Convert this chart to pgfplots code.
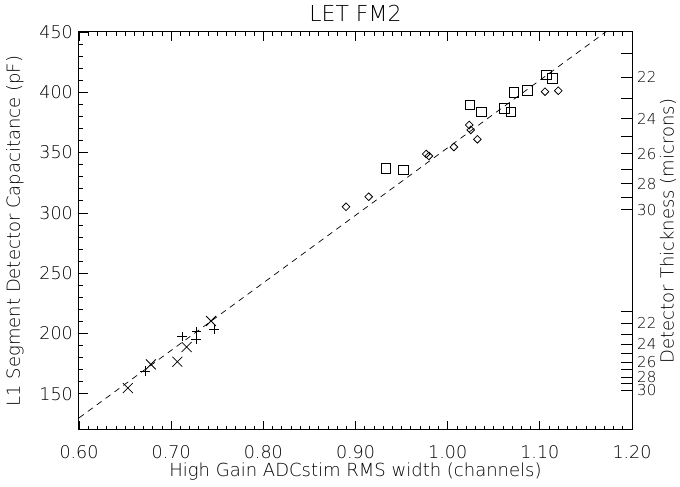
\documentclass[border=0pt]{standalone}
\usepackage{fontspec}
\setmainfont{DejaVu Sans}[UprightFont={* ExtraLight}]
\usepackage{pgfplots}
\pgfplotsset{compat=1.18}
\begin{document}
\begin{tikzpicture}
\useasboundingbox (-79pt,-57pt) rectangle (601pt,430pt);
\begin{axis}[
  at={(0,0)}, anchor=south west, scale only axis, width=553pt, height=398pt,
  xmin=0.6, xmax=1.2, ymin=120, ymax=450,
  xtick={0.6,0.7,0.8,0.9,1.0,1.1,1.2},
  xticklabels={0.60,0.70,0.80,0.90,1.00,1.10,1.20},
  minor x tick num=9,
  ytick={150,200,250,300,350,400,450},
  yticklabels={150,200,250,300,350,400,450},
  minor y tick num=4,
  ytick pos=left,
  tick align=inside,
  major tick length=9pt, minor tick length=4pt,
  tick style={black, line width=0.7pt},
  axis line style={line width=1pt},
  /pgf/number format/assume math mode=true,
  ticklabel style={font=\fontsize{17.5}{19}\selectfont},
  xticklabel style={anchor=center, yshift=-22pt},
  yticklabel style={anchor=east, inner sep=0pt, xshift=-6pt},
  title={LET FM2},
  title style={font=\fontsize{22}{24}\selectfont, at={(axis description cs:0.5,1.012)}, anchor=base},
  xlabel={High Gain ADCstim RMS width (channels)},
  xlabel style={font=\fontsize{18}{20}\selectfont, at={(axis description cs:0.5,-0.104)}, anchor=center},
  ylabel={L1 Segment Detector Capacitance (pF)},
  ylabel style={font=\fontsize{18}{20}\selectfont, at={(axis description cs:-0.1157,0.5)}, anchor=center},
]
\addplot[black, line width=0.7pt, dash pattern=on 6pt off 5pt] coordinates {(0.6,130) (1.2,466)};
\addplot[only marks, mark=square, mark size=4.8pt, mark options={line width=0.8pt, black}] coordinates {
(0.9331,336.9) (0.9519,335.7) (1.0242,389.5) (1.0369,383.9) (1.0615,386.6)
(1.0684,383.8) (1.072,399.7) (1.0864,401.7) (1.1073,414.3) (1.1134,411.3)};
\addplot[only marks, mark=square, mark size=2.7pt, mark options={rotate=45, line width=0.8pt, black}] coordinates {
(0.8897,305.1) (0.9143,313.4) (0.9767,348.8) (0.9797,347.2) (1.0068,354.6)
(1.0234,372.9) (1.025,368.8) (1.0322,361.0) (1.1056,400.5) (1.12,401.3)};
\addplot[only marks, mark=x, mark size=7pt, mark options={line width=0.8pt, black}] coordinates {
(0.653,154.8) (0.678,174.4) (0.7067,176.6) (0.7168,188.8) (0.7432,210.4)};
\addplot[only marks, mark=+, mark size=4.6pt, mark options={line width=0.8pt, black}] coordinates {
(0.6716,168.9) (0.7118,197.3) (0.7277,202.0) (0.727,194.8) (0.7465,203.6)};
\end{axis}
\begin{axis}[
  at={(0,0)}, anchor=south west, scale only axis, width=553pt, height=398pt,
  xmin=0.6, xmax=1.2, ymin=120, ymax=450,
  hide x axis, axis y line*=right,
  axis line style={line width=1pt},
  tick align=inside, major tick length=11pt,
  tick style={black, line width=0.7pt},
  ytick={153,158.3,163.9,170,176.5,183.6,191.3,199.6,208.6,218.6,302.7,313.1,324.3,336.3,349.2,363.2,378.3,394.8,412.7,432.4},
  yticklabels={30,,28,,26,,24,,22,,30,,28,,26,,24,,22,},
  ticklabel style={font=\fontsize{15}{16}\selectfont},
  yticklabel style={anchor=west, inner sep=0pt, xshift=5pt},
  ylabel={Detector Thickness (microns)},
  ylabel style={font=\fontsize{18}{20}\selectfont, at={(axis description cs:1.0651,0.5)}, anchor=center},
]
\end{axis}
\end{tikzpicture}
\end{document}
